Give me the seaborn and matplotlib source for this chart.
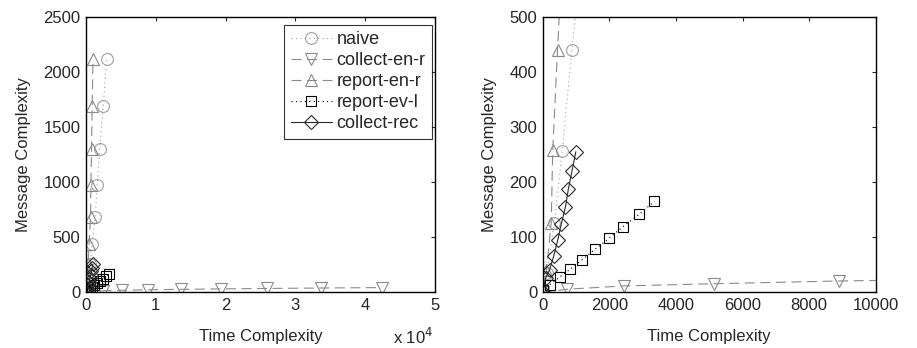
import numpy as np
import pandas as pd
import matplotlib
matplotlib.use("Agg")
import matplotlib.pyplot as plt
import seaborn as sns

# ---- data ----
labels = ["naive", "collect-en-r", "report-en-r", "report-ev-l", "collect-rec"]

naive_x = [10, 110, 346, 585, 870, 1290, 1620, 1960, 2470, 2960]
naive_y = [5, 35, 125, 257, 440, 680, 970, 1300, 1690, 2115]

collect_en_r_x = [0, 730, 2440, 5150, 8900, 13570, 19340, 25980, 33670, 42360]
collect_en_r_y = [0, 5, 11, 15, 20, 24, 28, 32, 36, 40]

report_en_r_x = [5, 107, 250, 297, 440, 650, 700, 790, 880, 1000]
report_en_r_y = [5, 40, 125, 258, 440, 685, 970, 1300, 1690, 2120]

report_ev_l_x = [10, 200, 500, 815, 1190, 1576, 1997, 2412, 2890, 3352]
report_ev_l_y = [3, 13, 27, 41, 59, 78, 98, 119, 141, 165]

collect_rec_x = [0, 80, 200, 330, 445, 555, 680, 765, 875, 990]
collect_rec_y = [0, 25, 40, 66, 94, 124, 155, 187, 220, 255]

left_xticks = [0, 10000, 20000, 30000, 40000, 50000]
left_xticklabels = ["0", "1", "2", "3", "4", "5"]
left_yticks = [0, 500, 1000, 1500, 2000, 2500]
right_xticks = [0, 2000, 4000, 6000, 8000, 10000]
right_yticks = [0, 100, 200, 300, 400, 500]

sns.set_style("white")
plt.rcParams["font.family"] = ["Liberation Sans", "DejaVu Sans"]
FS = 12
plt.rcParams["font.size"] = FS

series = [
    (naive_x, naive_y, dict(color="#a0a0a0", marker="o", linestyle=(0, (1, 3)))),
    (collect_en_r_x, collect_en_r_y, dict(color="#8a8a8a", marker="v", linestyle=(0, (9, 5)))),
    (report_en_r_x, report_en_r_y, dict(color="#8a8a8a", marker="^", linestyle=(0, (9, 5)))),
    (report_ev_l_x, report_ev_l_y, dict(color="#000000", marker="s", linestyle=(0, (1, 3)))),
    (collect_rec_x, collect_rec_y, dict(color="#2a2a2a", marker="D", linestyle="-")),
]

fig = plt.figure(figsize=(9.17, 3.48), dpi=100)
ax1 = fig.add_axes([0.0938, 0.161, 0.3806, 0.790])
ax2 = fig.add_axes([0.592, 0.161, 0.363, 0.790])

for ax in (ax1, ax2):
    for (xs, ys, st), lab in zip(series, labels):
        df = pd.DataFrame({"x": xs, "y": ys})
        ms = 7 if st["marker"] == "D" else 8.5
        if st["marker"] == "s":
            ms = 7.5
        sns.lineplot(data=df, x="x", y="y", ax=ax, estimator=None, sort=False,
                     color=st["color"], marker=st["marker"], linestyle=st["linestyle"],
                     markersize=ms, markerfacecolor="none", markeredgecolor=st["color"],
                     markeredgewidth=0.8, linewidth=0.8, label=lab, legend=False)
    ax.set_xlabel("Time Complexity", fontsize=FS, labelpad=12)
    ax.set_ylabel("Message Complexity", fontsize=FS, labelpad=9)
    ax.tick_params(direction="in", top=True, right=True, length=3, width=0.8,
                   labelsize=FS, pad=4)
    for sp in ax.spines.values():
        sp.set_visible(True)
        sp.set_color("black")
        sp.set_linewidth(1.0)

ax1.set_xlim(0, 50000)
ax1.set_ylim(0, 2500)
ax1.set_xticks(left_xticks)
ax1.set_xticklabels(left_xticklabels)
ax1.set_yticks(left_yticks)
fig.text(393 / 917, 3.5 / 348, r"x 10$^4$", fontsize=FS, ha="left", va="baseline")

ax2.set_xlim(0, 10000)
ax2.set_ylim(0, 500)
ax2.set_xticks(right_xticks)
ax2.set_yticks(right_yticks)

handles = ax1.get_lines()[:5]
leg = ax1.legend(handles, labels, loc="upper right", bbox_to_anchor=(0.991, 0.971),
                 frameon=True, fancybox=False, edgecolor="black", fontsize=13,
                 handlelength=2.3, handletextpad=0.25, labelspacing=0.22,
                 borderpad=0.35, borderaxespad=0.0)
leg.get_frame().set_linewidth(0.8)

fig.savefig("out.png", dpi=100)
